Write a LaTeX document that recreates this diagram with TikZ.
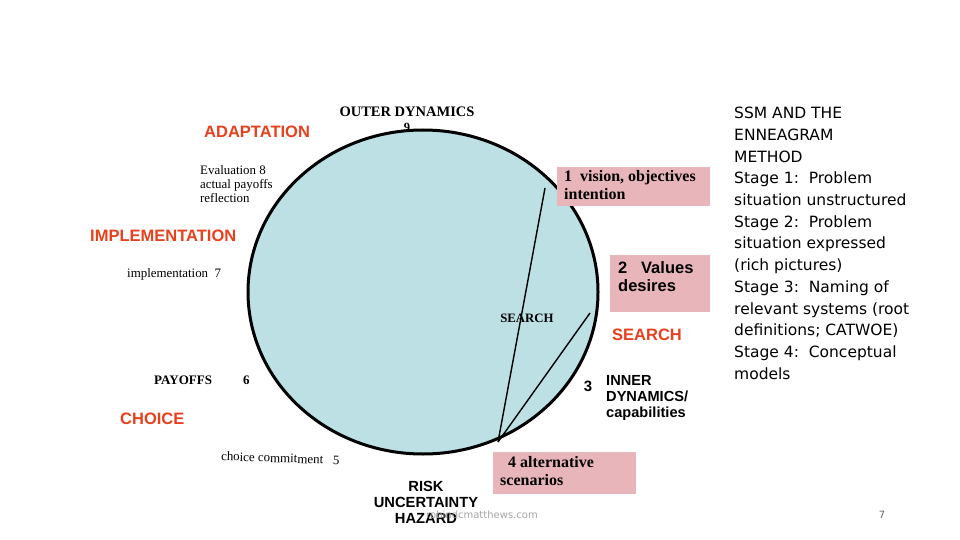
\documentclass[tikz,border=0pt]{standalone}
\usepackage{fontspec}
\setmainfont{Liberation Serif}
\newfontfamily\ar{Liberation Sans}
\newfontfamily\dv{DejaVu Sans}
\definecolor{cfill}{HTML}{BCE0E4}
\definecolor{pinkb}{HTML}{E8B5BB}
\definecolor{redt}{HTML}{E8401C}
\begin{document}
\begin{tikzpicture}[x=1pt,y=-1pt,
 red/.style={text=redt,font=\ar\bfseries\fontsize{16.5}{18}\selectfont,inner sep=0},
 ser/.style={font=\bfseries\fontsize{11}{13}\selectfont,inner sep=0,align=left},
 sm/.style={font=\fontsize{12.9}{14}\selectfont,inner sep=0,align=left},
 blk/.style={font=\ar\bfseries\fontsize{14.7}{16}\selectfont,inner sep=0,align=left},
 pbox/.style={fill=pinkb,inner sep=0,anchor=north west}]
\useasboundingbox (0,0) rectangle (960,540);
\fill[white] (0,0) rectangle (960,540);
\draw[line width=3pt,fill=cfill] (423,292) ellipse [x radius=175,y radius=162];
\coordinate (p1) at (545,188);
\coordinate (p2) at (590,313);
\coordinate (p4) at (498,442);
\draw[line width=1.4pt] (p1) -- (p4) (p2) -- (p4);
\node[ser,font=\bfseries\fontsize{14.5}{16}\selectfont] (od) at (407,112) {OUTER DYNAMICS};
\node[ser,font=\bfseries\fontsize{12.5}{14}\selectfont] (n9) at (407,127) {9};
\node[red,anchor=west] (ad) at (204,132) {ADAPTATION};
\node[sm,anchor=north west,font=\fontsize{12.9}{14}\selectfont] (ev) at (200,165) {Evaluation 8\\actual payoffs\\reflection};
\node[red,anchor=west] (im) at (90,236) {IMPLEMENTATION};
\node[sm,anchor=west] (i7) at (127,274) {implementation\ \ 7};
\node[sm,anchor=west,font=\bfseries\fontsize{13}{14}\selectfont] (pay) at (154,380) {PAYOFFS};
\node[sm,anchor=west,font=\bfseries\fontsize{13}{14}\selectfont] (six) at (243,380) {6};
\node[red,anchor=west] (ch) at (120,419) {CHOICE};
\node[sm,anchor=west,rotate=-2] (cc) at (221,456) {choice commitment\ \ \ 5};
\node[blk,align=center,anchor=north] (risk) at (426,481) {RISK\\UNCERTAINTY\\HAZARD};
\node[font=\dv\fontsize{10}{12}\selectfont,text=gray!70,inner sep=0] (url) at (482,515) {robindcmatthews.com};
\node[pbox,minimum width=153,minimum height=39] (b1) at (557,167) {};
\node[ser,anchor=north west,font=\bfseries\fontsize{16}{18}\selectfont] (t1) at (564,170) {1\ \ vision, objectives\\intention};
\node[pbox,minimum width=100,minimum height=57] (b2) at (610,255) {};
\node[blk,anchor=north west,font=\ar\bfseries\fontsize{16.5}{18}\selectfont] (t2) at (618,261) {2\ \ \ Values\\desires};
\node[ser,font=\bfseries\fontsize{12.8}{14}\selectfont] (se) at (527,318) {SEARCH};
\node[red,anchor=west] (se2) at (612,335) {SEARCH};
\node[blk,font=\ar\bfseries\fontsize{15}{16}\selectfont] (n3) at (588,386) {3};
\node[blk,anchor=north west,font=\ar\bfseries\fontsize{14.6}{16}\selectfont] (t3) at (606,375) {INNER\\DYNAMICS/\\capabilities};
\node[pbox,minimum width=143,minimum height=42] (b4) at (493,452) {};
\node[ser,anchor=north west,font=\bfseries\fontsize{16}{18}\selectfont] (t4) at (500,456) {\ \ 4 alternative\\scenarios};
\node[font=\dv\fontsize{15.5}{21.7}\selectfont,anchor=north west,align=left,inner sep=0] (side) at (734,107) {SSM AND THE\\ENNEAGRAM\\METHOD\\Stage 1:\ \ Problem\\situation unstructured\\Stage 2:\ \ Problem\\situation expressed\\(rich pictures)\\Stage 3:\ \ Naming of\\relevant systems (root\\definitions; CATWOE)\\Stage 4:\ \ Conceptual\\models};
\node[font=\dv\fontsize{10}{12}\selectfont,text=gray!80!black,inner sep=0] (pg) at (882,515) {7};
\end{tikzpicture}
\end{document}
